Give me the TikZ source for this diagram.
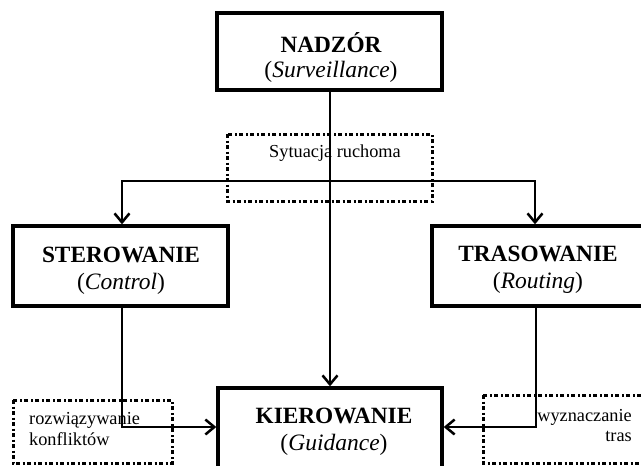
\documentclass[tikz,border=0pt]{standalone}
\usepackage{fontspec}
\setmainfont{Liberation Serif}
\usetikzlibrary{arrows.meta}
\begin{document}
\begin{tikzpicture}[x=1pt,y=-1pt,
  box/.style={draw,line width=3.4pt,minimum width=#1,inner sep=0pt},
  title/.style={anchor=base,inner sep=0pt,font=\fontsize{23.3}{27}\selectfont\bfseries},
  sub/.style={anchor=base,inner sep=0pt,font=\fontsize{23.5}{27}\selectfont},
  note/.style={inner sep=0pt,font=\fontsize{18.3}{22}\selectfont},
  dotbox/.style={draw,line width=3pt,dash pattern=on 4pt off 2.5pt on 2pt off 2.5pt},
  link/.style={line width=2.5pt},
  arr/.style={link,-{Straight Barb[length=9pt,width=15pt,line width=2.5pt]}}]
\useasboundingbox (0,0) rectangle (641,466);
\clip (0,0) rectangle (641,466);

% main boxes
\node[box=225pt,minimum height=77pt] (nad) at (329.5,51.5) {};
\node[box=215pt,minimum height=80pt] (ster) at (120.5,266) {};
\node[box=212pt,minimum height=80pt] (tras) at (538,266) {};
\node[box=224pt,minimum height=90pt] (kier) at (330,433) {};

% box texts
\node[title] (nadT) at (331,52) {NADZÓR};
\node[sub] (nadS) at (331,77) {(\textit{Surveillance})};
\node[title] (sterT) at (121,262) {STEROWANIE};
\node[sub] (sterS) at (121,289) {(\textit{Control})};
\node[title] (trasT) at (538,261) {TRASOWANIE};
\node[sub] (trasS) at (538,288) {(\textit{Routing})};
\node[title] (kierT) at (334,423) {KIEROWANIE};
\node[sub] (kierS) at (334,450) {(\textit{Guidance})};

% dotted annotation boxes
\draw[dotbox] (227,134) rectangle (432,201);
\draw[dotbox] (13,400) rectangle (172,463);
\draw[dotbox] (483,395) rectangle (670,463);
\node[note,anchor=base] (sit) at (335,157) {Sytuacja ruchoma};
\node[note,anchor=base west] (roz) at (29,424) {rozwiązywanie};
\node[note,anchor=base west] (kon) at (29,445) {konfliktów};
\node[note,anchor=base east] (wyz) at (632,421) {wyznaczanie};
\node[note,anchor=base east] (trs) at (632,441) {tras};

% connectors
\coordinate (split) at (330,181);
\draw[arr] (nad.south -| split) -- (kier.north -| split);
\draw[arr] (split) -- (122,181) -- (ster.north -| 122,0);
\draw[arr] (split) -- (535,181) -- (tras.north -| 535,0);
\coordinate (sbend) at (122,427);
\coordinate (tbend) at (536,427);
\draw[arr] (ster.south -| sbend) -- (sbend) -- (kier.west |- sbend);
\draw[arr] (tras.south -| tbend) -- (tbend) -- (kier.east |- tbend);
\end{tikzpicture}
\end{document}
